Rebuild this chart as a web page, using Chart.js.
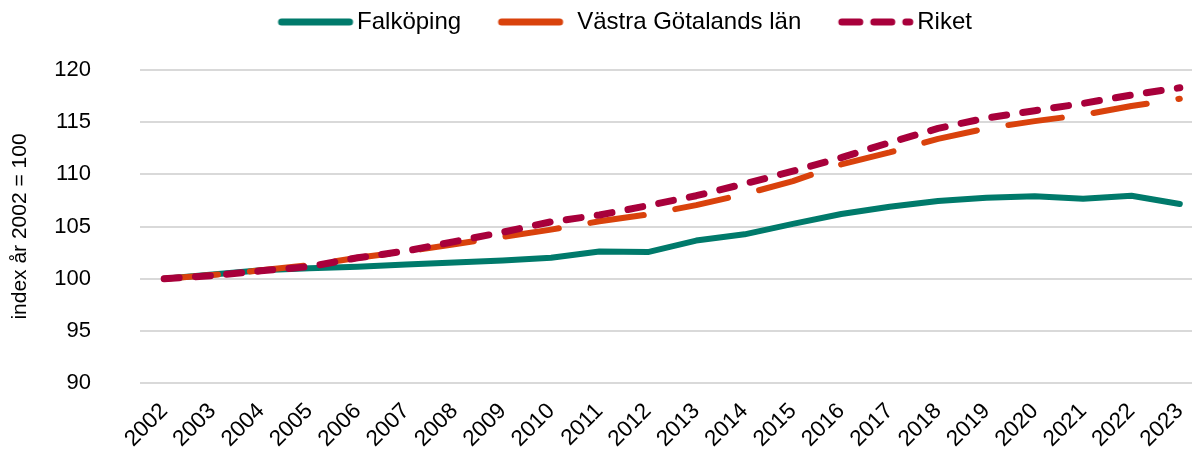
<!DOCTYPE html>
<html>
<head>
<meta charset="utf-8">
<script src="https://cdn.jsdelivr.net/npm/chart.js@4.4.1/dist/chart.umd.min.js"></script>
<style>
  html, body { margin: 0; padding: 0; background: #fff; overflow: hidden; }
  #wrap { width: 1192px; height: 450px; overflow: hidden; }
</style>
</head>
<body>
<div id="wrap"><canvas id="chart" width="1212" height="450" style="width:1212px;height:450px"></canvas></div>
<script>
const years = ["2002", "2003", "2004", "2005", "2006", "2007", "2008", "2009", "2010", "2011", "2012",
               "2013", "2014", "2015", "2016", "2017", "2018", "2019", "2020", "2021", "2022", "2023"];
const falkoping = [100, 100.4, 100.8, 101.0, 101.15, 101.35, 101.55, 101.75, 102.0, 102.6, 102.55,
                   103.65, 104.25, 105.25, 106.2, 106.9, 107.45, 107.75, 107.9, 107.65, 107.95, 107.15];
const vastraGotaland = [100, 100.35, 100.8, 101.3, 102.0, 102.6, 103.3, 104.0, 104.7, 105.5, 106.15,
                        107.05, 108.1, 109.35, 110.95, 112.1, 113.4, 114.4, 115.1, 115.7, 116.55, 117.25];
const riket = [100, 100.3, 100.75, 101.15, 102.0, 102.65, 103.55, 104.45, 105.45, 106.1, 107.0,
               107.95, 109.1, 110.3, 111.6, 113.05, 114.4, 115.4, 116.1, 116.8, 117.6, 118.3];
const yTicks = [90, 95, 100, 105, 110, 115, 120];

const teal = "#007A6B";
const orange = "#D9420C";
const crimson = "#A8003B";

Chart.defaults.font.family = "'Liberation Sans', Arial, sans-serif";
Chart.defaults.color = "#000";

// small line samples for the legend, drawn a bit to the right so the text sits close
function legendSample(color, dash, end) {
    const c = document.createElement("canvas");
    c.width = 100;
    c.height = 12;
    const g = c.getContext("2d");
    g.strokeStyle = color;
    g.lineWidth = 7;
    g.lineCap = "round";
    g.setLineDash(dash);
    g.beginPath();
    g.moveTo(24, 6);
    g.lineTo(end, 6);
    g.stroke();
    return c;
}

// legend sits higher than its box, chart area starts lower
const legendPlace = {
    id: "legendPlace",
    beforeInit(chart) {
        const fit = chart.legend.fit;
        chart.legend.fit = function () {
            fit.call(this);
            this.height = 70;
        };
    },
    afterLayout(chart) {
        const lg = chart.legend;
        lg.left += 19;
        lg.right += 19;
        lg.top -= 19;
        lg.bottom -= 19;
    }
};

const ctx = document.getElementById("chart").getContext("2d");

new Chart(ctx, {
    type: "line",
    data: {
        labels: years,
        datasets: [
            {
                label: "Falköping",
                data: falkoping,
                borderColor: teal,
                backgroundColor: teal,
                borderWidth: 6,
                borderJoinStyle: "round",
                borderCapStyle: "round",
                pointRadius: 0,
                pointHoverRadius: 0,
                pointStyle: legendSample(teal, [], 92),
                tension: 0,
                order: 3
            },
            {
                label: "Västra Götalands län",
                data: vastraGotaland,
                borderColor: orange,
                backgroundColor: orange,
                borderWidth: 6,
                borderDash: [54, 32],
                borderJoinStyle: "round",
                borderCapStyle: "round",
                pointRadius: 0,
                pointHoverRadius: 0,
                pointStyle: legendSample(orange, [], 82),
                tension: 0,
                order: 2
            },
            {
                label: "Riket",
                data: riket,
                borderColor: crimson,
                backgroundColor: crimson,
                borderWidth: 7,
                borderDash: [15, 16.3],
                borderJoinStyle: "round",
                borderCapStyle: "round",
                pointRadius: 0,
                pointHoverRadius: 0,
                pointStyle: legendSample(crimson, [18, 14], 92),
                tension: 0,
                order: 1
            }
        ]
    },
    options: {
        responsive: false,
        animation: false,
        layout: {
            padding: { left: 0, right: 8, top: 0, bottom: 0 }
        },
        plugins: {
            legend: {
                position: "top",
                labels: {
                    usePointStyle: true,
                    pointStyleWidth: 75,
                    padding: 29,
                    color: "#000",
                    font: { size: 24 },
                    sort: (a, b) => a.datasetIndex - b.datasetIndex
                }
            },
            tooltip: { enabled: false }
        },
        scales: {
            x: {
                offset: true,
                grid: { display: false },
                border: { display: false },
                ticks: {
                    autoSkip: false,
                    minRotation: 45,
                    maxRotation: 45,
                    padding: 7,
                    color: "#000",
                    font: { size: 22.5 }
                },
                afterFit(scale) {
                    scale.height = 67;
                }
            },
            y: {
                min: 90,
                max: 120,
                afterBuildTicks(scale) {
                    scale.ticks = yTicks.map(v => ({ value: v }));
                },
                ticks: {
                    padding: 49,
                    color: "#000",
                    font: { size: 22 }
                },
                grid: {
                    color: "#d9d9d9",
                    lineWidth: 2,
                    drawTicks: false
                },
                border: { display: false },
                title: {
                    display: true,
                    text: "index år 2002 = 100",
                    color: "#000",
                    font: { size: 21 },
                    padding: { top: 8, bottom: 0 }
                },
                afterFit(scale) {
                    scale.width = 140;
                }
            }
        }
    },
    plugins: [legendPlace]
});
</script>
</body>
</html>
